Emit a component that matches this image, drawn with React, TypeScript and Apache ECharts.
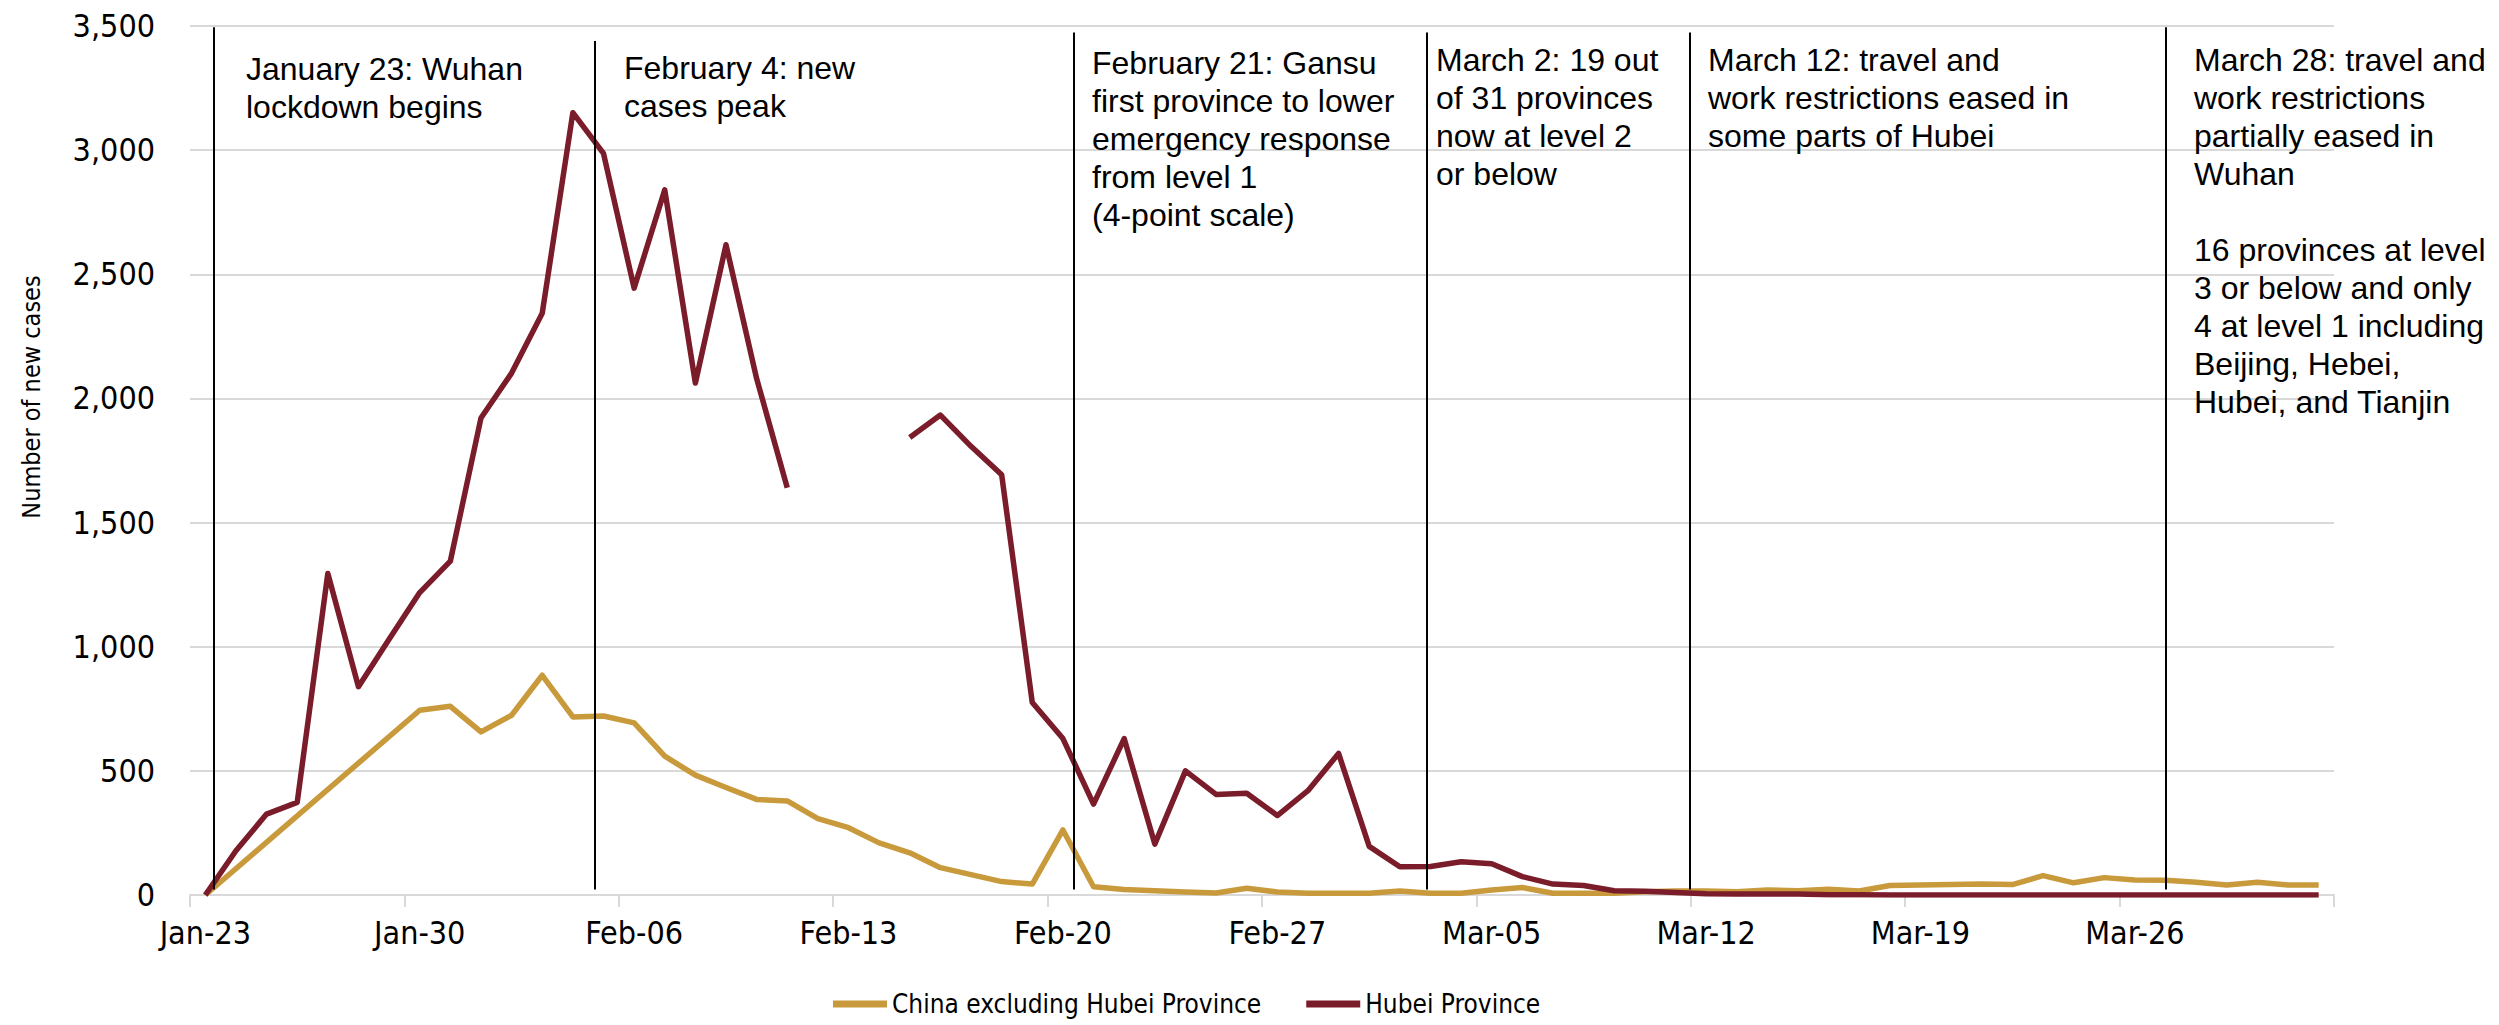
import React, { useEffect, useRef } from "react";
import * as echarts from "echarts";

// ---------- data ----------
const days: string[] = [
  "Jan-23", "Jan-24", "Jan-25", "Jan-26", "Jan-27", "Jan-28", "Jan-29", "Jan-30", "Jan-31",
  "Feb-01", "Feb-02", "Feb-03", "Feb-04", "Feb-05", "Feb-06", "Feb-07", "Feb-08", "Feb-09", "Feb-10",
  "Feb-11", "Feb-12", "Feb-13", "Feb-14", "Feb-15", "Feb-16", "Feb-17", "Feb-18", "Feb-19", "Feb-20",
  "Feb-21", "Feb-22", "Feb-23", "Feb-24", "Feb-25", "Feb-26", "Feb-27", "Feb-28", "Feb-29",
  "Mar-01", "Mar-02", "Mar-03", "Mar-04", "Mar-05", "Mar-06", "Mar-07", "Mar-08", "Mar-09", "Mar-10",
  "Mar-11", "Mar-12", "Mar-13", "Mar-14", "Mar-15", "Mar-16", "Mar-17", "Mar-18", "Mar-19", "Mar-20",
  "Mar-21", "Mar-22", "Mar-23", "Mar-24", "Mar-25", "Mar-26", "Mar-27", "Mar-28", "Mar-29", "Mar-30",
  "Mar-31", "Apr-01",
];

const chinaExHubei: (number | null)[] = [
  0, null, null, null, null, null, null, 744, 760, 657,
  724, 885, 717, 721, 693, 559, 483, 433, 385, 379,
  308, 271, 210, 170, 110, 82, 54, 44, 262, 33,
  22, 17, 12, 8, 27, 12, 7, 7, 7, 16,
  7, 7, 20, 30, 7, 7, 7, 13, 16, 16,
  13, 20, 17, 23, 16, 38, 40, 42, 44, 42,
  78, 49, 70, 60, 59, 51, 40, 51, 40, 40,
];

const hubei: (number | null)[] = [
  0, 178, 326, 373, 1295, 839, 1030, 1218, 1345, 1921,
  2102, 2343, 3151, 2987, 2444, 2840, 2062, 2619, 2080, 1640,
  null, null, null, 1843, 1933, 1807, 1693, 775, 630, 366,
  630, 205, 500, 405, 410, 320, 420, 570, 196, 114,
  115, 134, 126, 74, 44, 38, 17, 15, 10, 5,
  4, 4, 4, 1, 1, 0, 0, 0, 0, 0,
  0, 0, 0, 0, 0, 0, 0, 0, 0, 0,
];

const yTicks = { min: 0, max: 3500, interval: 500 };

// event marker lines: position in days from the axis start, top / bottom in cases
const eventPos: number[] = [0.76, 13.2, 28.84, 40.39, 48.95, 64.5];
const eventTop: number[] = [3495, 3440, 3474, 3474, 3474, 3495];
const eventBottom: number[] = [22, 22, 22, 22, 22, 22];

const eventTexts: string[] = [
  "January 23: Wuhan\nlockdown begins",
  "February 4: new\ncases peak",
  "February 21: Gansu\nfirst province to lower\nemergency response\nfrom level 1\n(4-point scale)",
  "March 2: 19 out\nof 31 provinces\nnow at level 2\nor below",
  "March 12: travel and\nwork restrictions eased in\nsome parts of Hubei",
  "March 28: travel and\nwork restrictions\npartially eased in\nWuhan\n\n16 provinces at level\n3 or below and only\n4 at level 1 including\nBeijing, Hebei,\nHubei, and Tianjin",
];

const seriesNames = ["China excluding Hubei Province", "Hubei Province"];
const yAxisTitle = "Number of new cases";

// ---------- styles ----------
const narrow = "'Liberation Sans Narrow', 'Arial Narrow', 'DejaVu Sans Condensed', sans-serif";
const sans = "'Liberation Sans', Arial, sans-serif";
const gold = "#C99A3C";
const maroon = "#7A1C29";
const grid = "#D9D9D9";

const textX = [246, 624, 1092, 1436, 1708, 2194];
const textY = [50, 49, 44, 41, 41, 41];

export default function App() {
  const ref = useRef<HTMLDivElement>(null);

  useEffect(() => {
    if (!ref.current) return;
    const chart = echarts.init(ref.current, undefined, { renderer: "svg" });

    const graphics: any[] = eventTexts.map((t, i) => ({
      type: "text",
      x: textX[i],
      y: textY[i],
      z: 100,
      zlevel: 0,
      silent: true,
      style: {
        text: t,
        fontFamily: sans,
        fontSize: 32,
        lineHeight: 38,
        fill: "#000",
        align: "left",
        verticalAlign: "top",
      },
    }));
    graphics.push({
      type: "text",
      x: 31,
      y: 397,
      z: 100,
      rotation: Math.PI / 2,
      silent: true,
      style: {
        text: yAxisTitle,
        fontFamily: narrow,
        fontSize: 25,
        fill: "#000",
        align: "center",
        verticalAlign: "middle",
      },
    });

    chart.setOption({
      animation: false,
      backgroundColor: "#fff",
      grid: { left: 190, right: 165, top: 26, bottom: 130, containLabel: false },
      legend: {
        data: seriesNames,
        left: 833,
        top: 991,
        padding: 0,
        icon: "rect",
        itemWidth: 54,
        itemHeight: 7,
        itemGap: 45,
        textStyle: { fontFamily: narrow, fontSize: 26, color: "#000" },
        selectedMode: false,
      },
      xAxis: [
        {
          type: "category",
          data: days,
          boundaryGap: true,
          axisLine: { show: true, lineStyle: { color: grid, width: 2 } },
          axisTick: { show: true, interval: 6, length: 12, lineStyle: { color: grid, width: 2 } },
          axisLabel: {
            interval: 6,
            margin: 22,
            fontFamily: narrow,
            fontSize: 32,
            color: "#000",
          },
          splitLine: { show: false },
        },
        {
          type: "value",
          min: 0,
          max: days.length,
          show: false,
          splitLine: { show: false },
        },
      ],
      yAxis: {
        type: "value",
        min: yTicks.min,
        max: yTicks.max,
        interval: yTicks.interval,
        axisLine: { show: false },
        axisTick: { show: false },
        axisLabel: {
          margin: 35,
          fontFamily: narrow,
          fontSize: 32,
          color: "#000",
          formatter: (v: number) => v.toLocaleString("en-US"),
        },
        splitLine: { show: true, lineStyle: { color: grid, width: 2 } },
      },
      series: [
        {
          name: seriesNames[0],
          type: "line",
          data: chinaExHubei,
          connectNulls: true,
          symbol: "none",
          silent: true,
          lineStyle: { color: gold, width: 5.5, join: "round" },
          itemStyle: { color: gold },
          z: 3,
        },
        {
          name: seriesNames[1],
          type: "line",
          data: hubei,
          connectNulls: false,
          symbol: "none",
          silent: true,
          lineStyle: { color: maroon, width: 5.5, join: "round" },
          itemStyle: { color: maroon },
          z: 4,
        },
        {
          name: "events",
          type: "line",
          xAxisIndex: 1,
          data: [],
          symbol: "none",
          silent: true,
          z: 5,
          markLine: {
            symbol: "none",
            silent: true,
            animation: false,
            label: { show: false },
            lineStyle: { color: "#000", width: 2, type: "solid" },
            data: eventPos.map((p, i) => [
              { coord: [p, eventBottom[i]] },
              { coord: [p, eventTop[i]] },
            ]),
          },
        },
      ],
      graphic: graphics,
    });

    return () => chart.dispose();
  }, []);

  return (
    <div
      ref={ref}
      style={{ position: "fixed", left: 0, top: 0, width: "2499px", height: "1025px", background: "#fff" }}
    />
  );
}
